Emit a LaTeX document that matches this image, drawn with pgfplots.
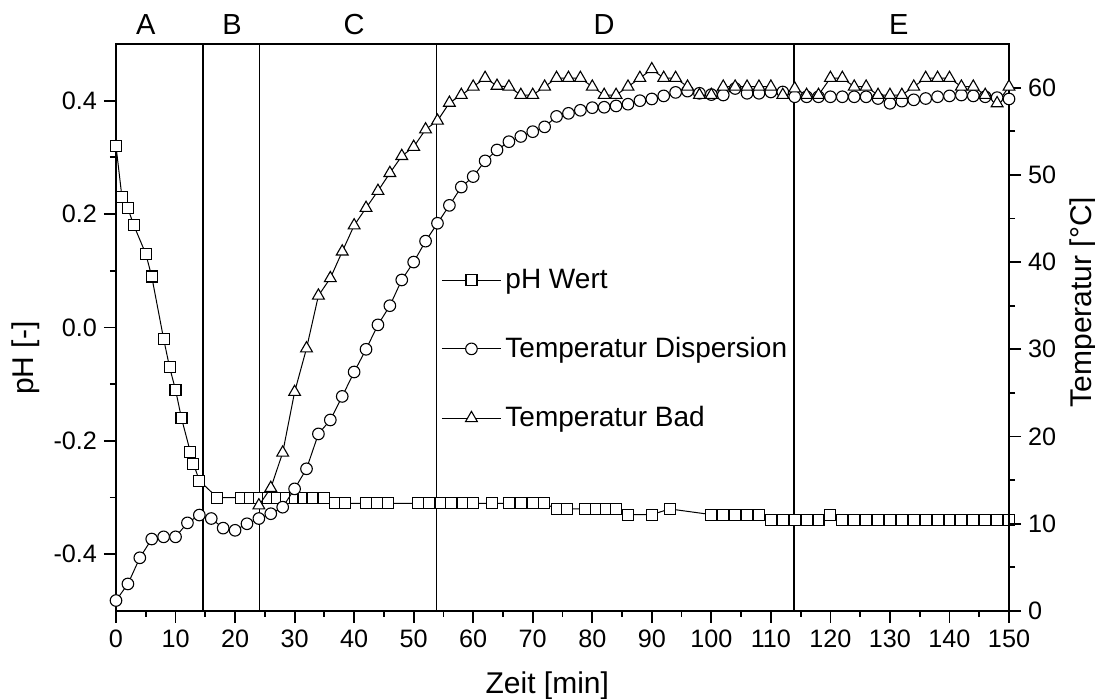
\documentclass[border=0pt]{standalone}
\usepackage{fontspec}
\setmainfont{Liberation Sans}
\usepackage{pgfplots}
\pgfplotsset{compat=1.18}

\pgfplotsset{
  common/.style={
    scale only axis, width=446.5pt, height=283.5pt,
    xmin=0, xmax=150,
    tick align=outside,
    major tick length=6pt, minor tick length=3pt,
    every tick/.style={black, line width=0.9pt},
    axis line style={line width=1pt},
    /pgf/number format/assume math mode=true,
    tick label style={font=\fontsize{12.6}{14}\selectfont},
    label style={font=\fontsize{15}{17}\selectfont},
    clip=false,
  },
  phstyle/.style={black, line width=0.5pt, mark=square*, mark size=2.75pt, mark options={fill=white, line width=0.55pt}},
  dispstyle/.style={black, line width=0.5pt, mark=*, mark size=2.9pt, mark options={fill=white, line width=0.55pt}},
  badstyle/.style={black, line width=0.5pt, mark=triangle*, mark size=3.4pt, mark options={fill=white, line width=0.55pt}},
}

\begin{document}
\begin{tikzpicture}
\begin{axis}[common,
  ymin=-0.5, ymax=0.5,
  xtick={0,10,...,150}, minor x tick num=1,
  ytick={-0.4,-0.2,0,0.2,0.4}, minor y tick num=1,
  xtick pos=bottom, ytick pos=left,
  xlabel={Zeit [min]}, ylabel={pH [-]},
  xlabel style={at={(ticklabel cs:0.483)}, anchor=near ticklabel, yshift=-5pt},
  ylabel style={at={(ticklabel cs:0.446)}, anchor=near ticklabel},
  yticklabel style={/pgf/number format/.cd, fixed, fixed zerofill, precision=1},
]
\coordinate (SW) at (rel axis cs:0,0);
\draw[line width=0.7pt] (axis cs:14.6,-0.5) -- (axis cs:14.6,0.5);
\draw[line width=0.7pt] (axis cs:24.1,-0.5) -- (axis cs:24.1,0.5);
\draw[line width=0.7pt] (axis cs:53.8,-0.5) -- (axis cs:53.8,0.5);
\draw[line width=0.7pt] (axis cs:113.9,-0.5) -- (axis cs:113.9,0.5);
\begin{scope}[font=\fontsize{14.5}{16}\selectfont]
\node at (axis cs:5,0.535) {A};
\node at (axis cs:19.5,0.535) {B};
\node at (axis cs:40,0.535) {C};
\node at (axis cs:82,0.535) {D};
\node at (axis cs:131.5,0.535) {E};
\end{scope}
\addplot[phstyle] coordinates {
(0,0.32)(1,0.23)(2,0.21)(3,0.18)(5,0.13)(6,0.09)(8,-0.02)(9,-0.07)(10,-0.11)(11,-0.16)
(12.5,-0.22)(13,-0.24)(14,-0.27)(17,-0.30)(21,-0.30)(22.5,-0.30)(24,-0.30)(25.5,-0.30)
(27,-0.30)(28.5,-0.30)(30,-0.30)(31.5,-0.30)(33,-0.30)(35,-0.30)(36.8,-0.31)(38.5,-0.31)
(42,-0.31)(43.8,-0.31)(45.7,-0.31)(50.8,-0.31)(52.6,-0.31)(54.5,-0.31)(56.3,-0.31)
(58.2,-0.31)(60,-0.31)(63.1,-0.31)(66,-0.31)(68,-0.31)(70,-0.31)(71.9,-0.31)
(74,-0.32)(75.8,-0.32)(78.8,-0.32)(80.6,-0.32)(82.3,-0.32)(84,-0.32)(86,-0.33)(90,-0.33)
(93,-0.32)(100,-0.33)(102,-0.33)(104,-0.33)(106,-0.33)(108,-0.33)(110,-0.34)(112,-0.34)
(114,-0.34)(116,-0.34)(118,-0.34)(120,-0.33)(122,-0.34)(124,-0.34)(126,-0.34)(128,-0.34)
(130,-0.34)(132,-0.34)(134,-0.34)(136,-0.34)(138,-0.34)(140,-0.34)(142,-0.34)(144,-0.34)
(146,-0.34)(148,-0.34)(150,-0.34)
};
\end{axis}

\begin{axis}[common,
  ymin=0, ymax=65,
  axis x line=none, axis y line*=right,
  ytick={0,10,...,60}, minor y tick num=1,
  ylabel={Temperatur [°C]},
  ylabel style={at={(ticklabel cs:0.545)}, anchor=near ticklabel},
  legend style={at={(0.364,0.611)}, anchor=north west, draw=none, fill=none,
    font=\fontsize{14}{16}\selectfont, row sep=19pt, inner sep=0pt},
  legend cell align=left,
  legend image code/.code={\draw[mark repeat=2,mark phase=2,#1] plot coordinates {(0pt,0pt) (14.75pt,0pt) (29.5pt,0pt)};},
]
\addlegendimage{phstyle}
\addlegendentry{pH Wert}
\addplot[dispstyle] coordinates {
(0,1.2)(2,3.1)(4,6.1)(6,8.25)(8,8.5)(10,8.5)(12,10.1)(14,11.0)(16,10.6)(18,9.5)(20,9.25)
(22,10.0)(24,10.6)(26,11.15)(28,11.9)(30,14.0)(32,16.3)(34,20.3)(36,21.9)(38,24.6)(40,27.4)
(42,30.0)(44,32.8)(46,35.0)(48,37.95)(50,40.0)(52,42.4)(54,44.45)(56,46.5)(58,48.6)(60,49.8)
(62,51.6)(64,52.85)(66,53.8)(68,54.4)(70,54.95)(72,55.5)(74,56.7)(76,57.05)(78,57.4)(80,57.7)
(82,57.75)(84,57.9)(86,58.1)(88,58.5)(90,58.7)(92,59.05)(94,59.45)(96,59.6)(98,59.35)
(100,59.2)(102,59.15)(104,59.9)(106,59.35)(108,59.35)(110,59.5)(112,59.5)(114,58.95)
(116,58.95)(118,58.95)(120,58.95)(122,58.95)(124,58.95)(126,58.95)(128,58.75)(130,58.2)
(132,58.45)(134,58.6)(136,58.75)(138,58.95)(140,59.05)(142,59.15)(144,59.05)(146,58.95)
(148,58.85)(150,58.7)
};
\addlegendentry{Temperatur Dispersion}
\addplot[badstyle] coordinates {
(24,12.1)(26,14.1)(28,18.15)(30,25.1)(32,30.1)(34,36.15)(36,38.15)(38,41.2)(40,44.2)
(42,46.2)(44,48.15)(46,50.2)(48,52.15)(50,53.2)(52,55.2)(54,56.2)(56,58.25)(58,59.15)
(60,60.1)(62,61.1)(64,60.2)(66,60.1)(68,59.15)(70,59.15)(72,60.1)(74,61.1)(76,61.1)(78,61.1)
(80,60.1)(82,59.15)(84,59.15)(86,60.1)(88,61.1)(90,62.1)(92,61.1)(94,61.1)(96,60.1)
(98,59.15)(100,59.15)(102,60.1)(104,60.1)(106,60.1)(108,60.1)(110,60.1)(112,59.15)
(114,59.9)(116,59.15)(118,59.15)(120,61.1)(122,61.1)(124,60.1)(126,60.1)(128,59.15)
(130,59.15)(132,59.15)(134,60.1)(136,61.1)(138,61.1)(140,61.1)(142,60.1)(144,60.1)
(146,59.15)(148,58.2)(150,60.1)
};
\addlegendentry{Temperatur Bad}
\end{axis}
\pgfresetboundingbox
\path[use as bounding box] (SW) ++(-58pt,-44pt) rectangle ++(547.5pt,349.5pt);
\end{tikzpicture}
\end{document}
